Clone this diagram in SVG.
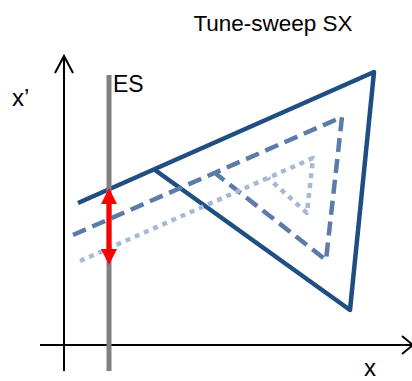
<svg xmlns="http://www.w3.org/2000/svg" width="412" height="381" viewBox="0 0 412 381">
<style>
text{font-family:"Liberation Sans",Arial,sans-serif;fill:#000}
.ax{stroke:#000;stroke-width:2;fill:none}
.tri{fill:none;stroke-width:4.5;stroke-linejoin:round}
</style>
<rect width="412" height="381" fill="#fff"/>
<text x="273" y="31" font-size="22.5" text-anchor="middle">Tune-sweep SX</text>
<g id="axes">
<line class="ax" x1="64" y1="371" x2="64" y2="56"/>
<polyline class="ax" points="55,73 64,56 73,73"/>
<line class="ax" x1="40" y1="345" x2="412" y2="345"/>
<polyline class="ax" points="402,336 413,345 402,354"/>
<text x="12" y="106" font-size="24">x’</text>
<text x="364" y="376" font-size="24">x</text>
</g>
<g id="tri-solid"><polyline class="tri" stroke="#1f4e82" points="78,203 374,72 350,310 155,170"/></g>
<g id="tri-dashed"><polyline class="tri" stroke="#5b7ca8" stroke-dasharray="14,7" points="73,235 342,117 326,260 215,173"/></g>
<g id="tri-dotted"><polyline class="tri" stroke="#a8b9d3" stroke-dasharray="5,5" points="80,261 313,158 307,213 268,178"/></g>
<g id="ES">
<line x1="109" y1="75" x2="109" y2="371" stroke="#808080" stroke-width="5"/>
<text x="113" y="92" font-size="23">ES</text>
</g>
<g id="connectors">
<line x1="109" y1="200" x2="109" y2="252" stroke="#ff0000" stroke-width="5"/>
<polygon points="109,188 117,204 101,204" fill="#ff0000"/>
<polygon points="109,265 117,249 101,249" fill="#ff0000"/>
</g>
</svg>
